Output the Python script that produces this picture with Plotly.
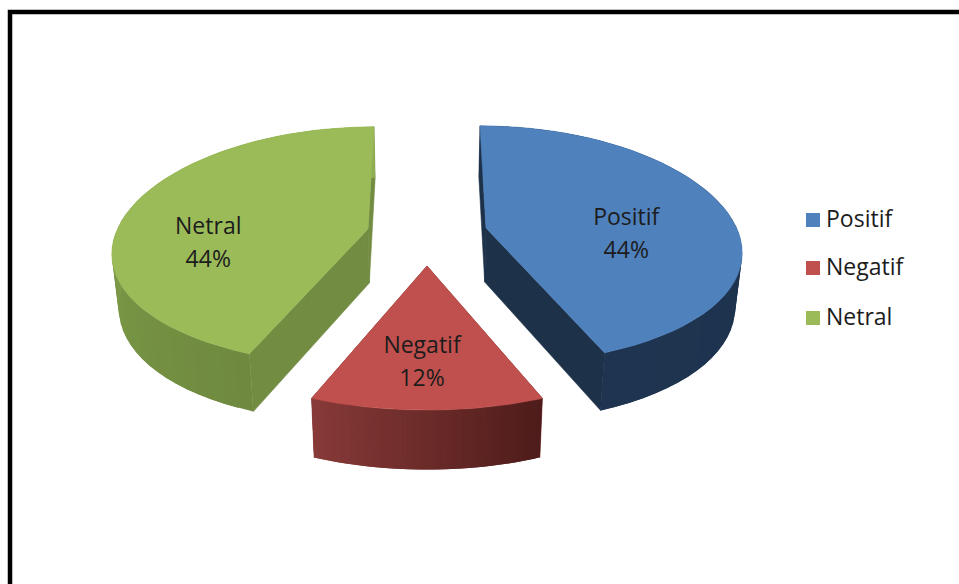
import math
import plotly.graph_objects as go

# Chart data
categories = ["Positif", "Negatif", "Netral"]
shares = [44, 12, 44]

# Look of each slice
top_colors = ["#4f81bd", "#c0504d", "#9bbb59"]
cut_colors = ["#1d3149", "#7d3331", "#728c41"]
wall_start = ["#1d3149", "#4e1c1a", "#6f8a3f"]
wall_end = ["#1e3450", "#873a38", "#8fae52"]
text_color = "#1c1c1c"
font_family = "Open Sans"
font_size = 23

# Projection of the tilted disc onto the page
WIDTH, HEIGHT = 959, 584
SCALE_X, SCALE_Y = 252.0, 117.6
PERSPECTIVE_X, PERSPECTIVE_Y = 0.18, 0.142
VANISH_X, EXPLODE = 427.0, 0.16
anchors = [(486, 228), (427, 266), (368, 229)]
DEPTH, DEPTH_REF_Y = 54.0, 228.0


def plane_point(anchor, off, u, v):
    """Map a point of the unit disc, shifted by the slice explosion, to the page."""
    ox, oy = off
    wx0, wx = 1 - PERSPECTIVE_X * oy, 1 - PERSPECTIVE_X * (oy + v)
    wy0, wy = 1 - PERSPECTIVE_Y * oy, 1 - PERSPECTIVE_Y * (oy + v)
    x = anchor[0] + SCALE_X * ((ox + u) / wx - ox / wx0)
    y = anchor[1] + SCALE_Y * ((oy + v) / wy - oy / wy0)
    return x, y


def lower_point(pt):
    """Same point on the underside of the pie."""
    x, y = pt
    return VANISH_X + (x - VANISH_X) * 0.978, y + DEPTH + (y - DEPTH_REF_Y) * 0.03


def mix(c0, c1, t):
    a = [int(c0[i:i + 2], 16) for i in (1, 3, 5)]
    b = [int(c1[i:i + 2], 16) for i in (1, 3, 5)]
    return "#" + "".join(f"{round(p + (q - p) * t):02x}" for p, q in zip(a, b))


def polygon(fig, pts, color, edge=0.6):
    xs = [p[0] for p in pts] + [pts[0][0]]
    ys = [p[1] for p in pts] + [pts[0][1]]
    fig.add_trace(go.Scatter(
        x=xs, y=ys, mode="lines", fill="toself", fillcolor=color,
        line=dict(color=color, width=edge), hoverinfo="skip", showlegend=False,
    ))


fig = go.Figure()
total = sum(shares)
start = 0.0
STEPS = 48
label_radius = [0.55, 0.72, 0.62]
label_nudge = [(8, 19), (-5, -2), (-11, 29)]

for i, share in enumerate(shares):
    sweep = 2 * math.pi * share / total
    mid = start + sweep / 2
    off = (EXPLODE * math.sin(mid), EXPLODE * -math.cos(mid))
    anchor = anchors[i]
    angles = [start + sweep * k / STEPS for k in range(STEPS + 1)]
    rim = [plane_point(anchor, off, math.sin(a), -math.cos(a)) for a in angles]
    apex = plane_point(anchor, off, 0.0, 0.0)
    low_rim = [lower_point(p) for p in rim]
    low_apex = lower_point(apex)

    # Flat cut faces left by the explosion
    polygon(fig, [apex, rim[0], low_rim[0], low_apex], cut_colors[i])
    polygon(fig, [apex, rim[-1], low_rim[-1], low_apex], cut_colors[i])

    # Curved outer wall, shaded strip by strip; each strip runs under the next one
    for k in range(STEPS):
        t = k / (STEPS - 1)
        j = min(k + 2, STEPS)
        polygon(fig, [rim[k], rim[j], low_rim[j], low_rim[k]],
                mix(wall_start[i], wall_end[i], t), edge=0)

    # Top face
    polygon(fig, [apex] + rim, top_colors[i])

    # Slice label: name above percentage
    r = label_radius[i]
    lx, ly = plane_point(anchor, off, r * math.sin(mid), -r * math.cos(mid))
    lx += label_nudge[i][0]
    ly += label_nudge[i][1]
    fig.add_trace(go.Scatter(
        x=[lx, lx], y=[ly - 16, ly + 17], mode="text",
        text=[categories[i], f"{share}%"],
        textfont=dict(family=font_family, size=font_size, color=text_color),
        textposition="middle center", hoverinfo="skip", showlegend=False,
    ))
    start += sweep

# Key on the right-hand side
key_rows = [220, 268, 318]
KEY_X, KEY_TEXT_X = 813, 826
fig.add_trace(go.Scatter(
    x=[KEY_X] * 3, y=key_rows, mode="markers",
    marker=dict(symbol="square", size=14, color=top_colors, line=dict(width=0)),
    hoverinfo="skip", showlegend=False,
))
fig.add_trace(go.Scatter(
    x=[KEY_TEXT_X] * 3, y=[row + 1 for row in key_rows], mode="text", text=categories,
    textposition="middle right",
    textfont=dict(family=font_family, size=font_size, color=text_color),
    hoverinfo="skip", showlegend=False,
))

fig.update_layout(
    width=WIDTH, height=HEIGHT, margin=dict(l=0, r=0, t=0, b=0),
    paper_bgcolor="white", plot_bgcolor="white", showlegend=False,
    xaxis=dict(range=[0, WIDTH], visible=False, fixedrange=True),
    yaxis=dict(range=[HEIGHT, 0], visible=False, fixedrange=True),
    shapes=[dict(type="path", path=f"M 10 {HEIGHT + 10} L 10 12 L {WIDTH + 10} 12",
                 line=dict(color="black", width=4.5), layer="above")],
)

fig.write_html("out.html", config={"displayModeBar": False})
